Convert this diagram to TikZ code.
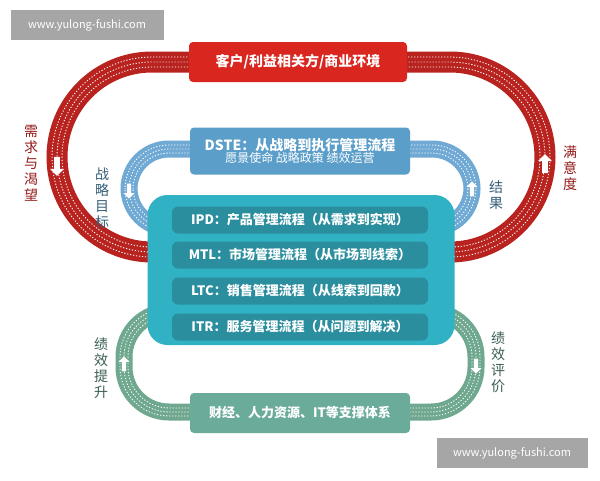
\documentclass[tikz,border=0pt]{standalone}
\usepackage{fontspec}
\setmainfont{Noto Sans CJK SC}
\usetikzlibrary{shapes.arrows}
\definecolor{redT}{HTML}{B8221F}
\definecolor{redB}{HTML}{D9261F}
\definecolor{bluT}{HTML}{6FA9D4}
\definecolor{bluB}{HTML}{5B9EC9}
\definecolor{grnT}{HTML}{6FA88F}
\definecolor{grnB}{HTML}{6AAB9A}
\definecolor{teal}{HTML}{30B2C4}
\definecolor{tealD}{HTML}{2A8E9E}
\tikzset{
 track/.style={line width=#1},
 dots/.style={white, line width=0.9pt, dash pattern=on 1.2pt off 1.8pt},
 lab/.style={font=\fontsize{14}{16}\selectfont, align=center, text width=1.2em, inner sep=0pt},
 barr/.style={single arrow, fill=white, minimum height=19pt, minimum width=14pt, single arrow head extend=2.5pt, inner sep=1.5pt},
 inbox/.style={fill=tealD, rounded corners=6pt, minimum width=256pt, minimum height=27pt, text=white, font=\bfseries\fontsize{13}{15}\selectfont},
}
\begin{document}
\begin{tikzpicture}[x=1pt,y=-1pt]
\useasboundingbox (0,0) rectangle (600,480);
\fill[white] (0,0) rectangle (600,480);
% red track
\draw[redT, track=21pt, rounded corners=95pt] (57,62) rectangle (545,252);
\foreach \d in {-5,0,5}{
 \draw[dots, rounded corners={95pt+\d pt}] (57-\d,62-\d) rectangle (545+\d,252+\d);}
% blue track
\draw[bluT, track=17pt, rounded corners=40pt] (129,149) rectangle (472,228);
\foreach \d in {-4,0,4}{
 \draw[dots, rounded corners={40pt+\d pt}] (129-\d,149-\d) rectangle (472+\d,228+\d);}
% green track
\draw[grnT, track=17pt, rounded corners=45pt] (124,312) rectangle (476,412);
\foreach \d in {-4,0,4}{
 \draw[dots, rounded corners={45pt+\d pt}] (124-\d,312-\d) rectangle (476+\d,412+\d);}
% arrows
\node[barr, shape border rotate=270] (a1) at (57,165) {};
\node[barr, shape border rotate=90] (a2) at (545,165) {};
\node[barr, shape border rotate=270, minimum height=15pt, minimum width=11pt] (a3) at (129,190) {};
\node[barr, shape border rotate=90, minimum height=15pt, minimum width=11pt] (a4) at (472,190) {};
\node[barr, shape border rotate=90, minimum height=15pt, minimum width=11pt] (a5) at (124,365) {};
\node[barr, shape border rotate=270, minimum height=15pt, minimum width=11pt] (a6) at (476,365) {};
% boxes
\node[fill=redB, rounded corners=4pt, minimum width=218pt, minimum height=40pt, text=white, font=\bfseries\fontsize{14}{16}\selectfont] (top) at (298,62) {客户/利益相关方/商业环境};
\node[fill=bluB, rounded corners=4pt, minimum width=220pt, minimum height=47pt, text=white, align=center, inner sep=0pt] (dste) at (300,151) {{\bfseries\fontsize{14}{16}\selectfont DSTE：从战略到执行管理流程}\\[0pt]{\fontsize{12}{14}\selectfont 愿景使命 战略政策 绩效运营}};
\node[fill=teal, rounded corners=20pt, minimum width=307pt, minimum height=150pt] (core) at (301,270) {};
\node[inbox] (ipd) at (300,220) {IPD：产品管理流程（从需求到实现）};
\node[inbox] (mtl) at (300,255) {MTL：市场管理流程（从市场到线索）};
\node[inbox] (ltc) at (300,291) {LTC：销售管理流程（从线索到回款）};
\node[inbox] (itr) at (300,327) {ITR：服务管理流程（从问题到解决）};
\node[fill=grnB, rounded corners=4pt, minimum width=220pt, minimum height=40pt, text=white, font=\bfseries\fontsize{13}{15}\selectfont] (bot) at (300,413) {财经、人力资源、IT等支撑体系};
% labels
\node[lab, text=redT!80!black] (l1) at (30,163) {需\\求\\与\\渴\\望};
\node[lab, text=redT!80!black] (l2) at (569,168) {满\\意\\度};
\node[lab, text=bluB!60!black] (l3) at (101,198) {战\\略\\目\\标};
\node[lab, text=bluB!60!black] (l4) at (495,195) {结\\果};
\node[lab, text=grnB!55!black] (l5) at (100,368) {绩\\效\\提\\升};
\node[lab, text=grnB!55!black] (l6) at (497,362) {绩\\效\\评\\价};
% watermarks
\node[fill=black!35, minimum width=153pt, minimum height=30pt, text=white, font=\fontsize{11}{13}\selectfont] (w1) at (87,25) {www.yulong-fushi.com};
\node[fill=black!35, minimum width=151pt, minimum height=30pt, text=white, font=\fontsize{11}{13}\selectfont] (w2) at (512,453) {www.yulong-fushi.com};
\end{tikzpicture}
\end{document}
